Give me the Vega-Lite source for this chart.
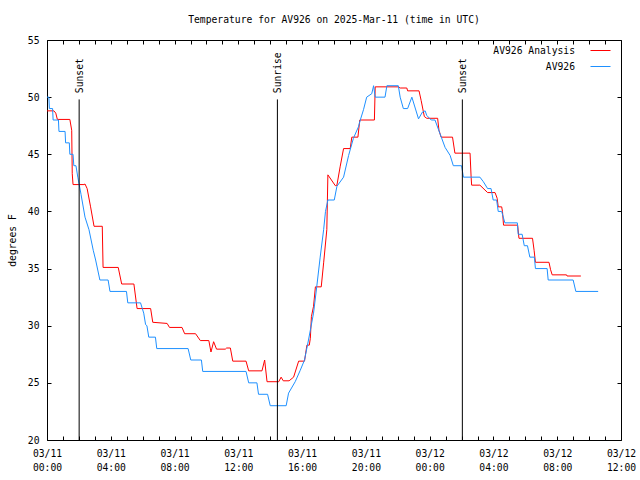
{
  "$schema": "https://vega.github.io/schema/vega-lite/v6.json",
  "width": 574,
  "height": 400,
  "autosize": {"type": "none"},
  "padding": {"left": 47, "top": 40, "right": 19, "bottom": 40},
  "background": "white",
  "title": {"text": "Temperature for AV926 on 2025-Mar-11 (time in UTC)", "font": "DejaVu Sans Mono", "fontSize": 9.7, "fontWeight": "normal", "color": "black", "offset": 10, "anchor": "middle"},
  "config": {
    "view": {"stroke": "black", "strokeWidth": 1},
    "axis": {"domain": false, "grid": false, "labelFont": "DejaVu Sans Mono", "labelFontSize": 9.7, "labelColor": "black", "titleFont": "DejaVu Sans Mono", "titleFontSize": 9.7, "titleFontWeight": "normal", "titleColor": "black", "tickColor": "black", "tickSize": -4}
  },
  "datasets": {
    "temps": [
      {"s": "AV926 Analysis", "t": "2025-03-11T00:00:00Z", "v": 48.8},
      {"s": "AV926 Analysis", "t": "2025-03-11T00:26:00Z", "v": 48.8},
      {"s": "AV926 Analysis", "t": "2025-03-11T00:33:00Z", "v": 48.6},
      {"s": "AV926 Analysis", "t": "2025-03-11T00:39:00Z", "v": 48.05},
      {"s": "AV926 Analysis", "t": "2025-03-11T01:26:00Z", "v": 48.05},
      {"s": "AV926 Analysis", "t": "2025-03-11T01:33:00Z", "v": 47.1},
      {"s": "AV926 Analysis", "t": "2025-03-11T01:35:00Z", "v": 43.3},
      {"s": "AV926 Analysis", "t": "2025-03-11T01:38:00Z", "v": 42.35},
      {"s": "AV926 Analysis", "t": "2025-03-11T02:19:00Z", "v": 42.35},
      {"s": "AV926 Analysis", "t": "2025-03-11T02:23:00Z", "v": 42.4},
      {"s": "AV926 Analysis", "t": "2025-03-11T02:31:00Z", "v": 42.0},
      {"s": "AV926 Analysis", "t": "2025-03-11T02:44:00Z", "v": 40.4},
      {"s": "AV926 Analysis", "t": "2025-03-11T02:57:00Z", "v": 38.7},
      {"s": "AV926 Analysis", "t": "2025-03-11T03:28:00Z", "v": 38.7},
      {"s": "AV926 Analysis", "t": "2025-03-11T03:31:00Z", "v": 35.1},
      {"s": "AV926 Analysis", "t": "2025-03-11T04:28:00Z", "v": 35.1},
      {"s": "AV926 Analysis", "t": "2025-03-11T04:41:00Z", "v": 33.65},
      {"s": "AV926 Analysis", "t": "2025-03-11T05:27:00Z", "v": 33.65},
      {"s": "AV926 Analysis", "t": "2025-03-11T05:39:00Z", "v": 31.5},
      {"s": "AV926 Analysis", "t": "2025-03-11T06:30:00Z", "v": 31.5},
      {"s": "AV926 Analysis", "t": "2025-03-11T06:38:00Z", "v": 30.3},
      {"s": "AV926 Analysis", "t": "2025-03-11T07:32:00Z", "v": 30.2},
      {"s": "AV926 Analysis", "t": "2025-03-11T07:41:00Z", "v": 29.85},
      {"s": "AV926 Analysis", "t": "2025-03-11T08:28:00Z", "v": 29.85},
      {"s": "AV926 Analysis", "t": "2025-03-11T08:38:00Z", "v": 29.3},
      {"s": "AV926 Analysis", "t": "2025-03-11T09:19:00Z", "v": 29.3},
      {"s": "AV926 Analysis", "t": "2025-03-11T09:37:00Z", "v": 28.7},
      {"s": "AV926 Analysis", "t": "2025-03-11T10:09:00Z", "v": 28.7},
      {"s": "AV926 Analysis", "t": "2025-03-11T10:17:00Z", "v": 27.7},
      {"s": "AV926 Analysis", "t": "2025-03-11T10:27:00Z", "v": 28.6},
      {"s": "AV926 Analysis", "t": "2025-03-11T10:38:00Z", "v": 27.95},
      {"s": "AV926 Analysis", "t": "2025-03-11T11:11:00Z", "v": 27.95},
      {"s": "AV926 Analysis", "t": "2025-03-11T11:16:00Z", "v": 28.05},
      {"s": "AV926 Analysis", "t": "2025-03-11T11:30:00Z", "v": 28.05},
      {"s": "AV926 Analysis", "t": "2025-03-11T11:39:00Z", "v": 26.9},
      {"s": "AV926 Analysis", "t": "2025-03-11T12:29:00Z", "v": 26.9},
      {"s": "AV926 Analysis", "t": "2025-03-11T12:39:00Z", "v": 26.05},
      {"s": "AV926 Analysis", "t": "2025-03-11T13:29:00Z", "v": 26.05},
      {"s": "AV926 Analysis", "t": "2025-03-11T13:39:00Z", "v": 27.0},
      {"s": "AV926 Analysis", "t": "2025-03-11T13:48:00Z", "v": 25.1},
      {"s": "AV926 Analysis", "t": "2025-03-11T14:32:00Z", "v": 25.1},
      {"s": "AV926 Analysis", "t": "2025-03-11T14:41:00Z", "v": 25.5},
      {"s": "AV926 Analysis", "t": "2025-03-11T14:49:00Z", "v": 25.18},
      {"s": "AV926 Analysis", "t": "2025-03-11T15:11:00Z", "v": 25.18},
      {"s": "AV926 Analysis", "t": "2025-03-11T15:28:00Z", "v": 25.5},
      {"s": "AV926 Analysis", "t": "2025-03-11T15:47:00Z", "v": 26.9},
      {"s": "AV926 Analysis", "t": "2025-03-11T16:09:00Z", "v": 26.9},
      {"s": "AV926 Analysis", "t": "2025-03-11T16:18:00Z", "v": 28.3},
      {"s": "AV926 Analysis", "t": "2025-03-11T16:27:00Z", "v": 28.3},
      {"s": "AV926 Analysis", "t": "2025-03-11T16:31:00Z", "v": 28.9},
      {"s": "AV926 Analysis", "t": "2025-03-11T16:35:00Z", "v": 30.8},
      {"s": "AV926 Analysis", "t": "2025-03-11T16:43:00Z", "v": 31.7},
      {"s": "AV926 Analysis", "t": "2025-03-11T16:50:00Z", "v": 33.4},
      {"s": "AV926 Analysis", "t": "2025-03-11T17:12:00Z", "v": 33.4},
      {"s": "AV926 Analysis", "t": "2025-03-11T17:21:00Z", "v": 35.5},
      {"s": "AV926 Analysis", "t": "2025-03-11T17:33:00Z", "v": 38.4},
      {"s": "AV926 Analysis", "t": "2025-03-11T17:37:00Z", "v": 43.2},
      {"s": "AV926 Analysis", "t": "2025-03-11T18:05:00Z", "v": 42.25},
      {"s": "AV926 Analysis", "t": "2025-03-11T18:11:00Z", "v": 42.3},
      {"s": "AV926 Analysis", "t": "2025-03-11T18:23:00Z", "v": 43.9},
      {"s": "AV926 Analysis", "t": "2025-03-11T18:36:00Z", "v": 45.5},
      {"s": "AV926 Analysis", "t": "2025-03-11T19:01:00Z", "v": 45.5},
      {"s": "AV926 Analysis", "t": "2025-03-11T19:07:00Z", "v": 46.5},
      {"s": "AV926 Analysis", "t": "2025-03-11T19:30:00Z", "v": 46.5},
      {"s": "AV926 Analysis", "t": "2025-03-11T19:37:00Z", "v": 48.0},
      {"s": "AV926 Analysis", "t": "2025-03-11T20:32:00Z", "v": 48.0},
      {"s": "AV926 Analysis", "t": "2025-03-11T20:35:00Z", "v": 50.9},
      {"s": "AV926 Analysis", "t": "2025-03-11T22:02:00Z", "v": 50.9},
      {"s": "AV926 Analysis", "t": "2025-03-11T22:09:00Z", "v": 50.8},
      {"s": "AV926 Analysis", "t": "2025-03-11T22:34:00Z", "v": 50.8},
      {"s": "AV926 Analysis", "t": "2025-03-11T22:37:00Z", "v": 50.55},
      {"s": "AV926 Analysis", "t": "2025-03-11T23:20:00Z", "v": 50.55},
      {"s": "AV926 Analysis", "t": "2025-03-11T23:28:00Z", "v": 49.7},
      {"s": "AV926 Analysis", "t": "2025-03-11T23:40:00Z", "v": 48.3},
      {"s": "AV926 Analysis", "t": "2025-03-11T23:49:00Z", "v": 48.15},
      {"s": "AV926 Analysis", "t": "2025-03-12T00:30:00Z", "v": 48.15},
      {"s": "AV926 Analysis", "t": "2025-03-12T00:35:00Z", "v": 47.1},
      {"s": "AV926 Analysis", "t": "2025-03-12T00:43:00Z", "v": 46.5},
      {"s": "AV926 Analysis", "t": "2025-03-12T01:26:00Z", "v": 46.5},
      {"s": "AV926 Analysis", "t": "2025-03-12T01:35:00Z", "v": 45.1},
      {"s": "AV926 Analysis", "t": "2025-03-12T02:32:00Z", "v": 45.1},
      {"s": "AV926 Analysis", "t": "2025-03-12T02:36:00Z", "v": 43.0},
      {"s": "AV926 Analysis", "t": "2025-03-12T02:38:00Z", "v": 42.3},
      {"s": "AV926 Analysis", "t": "2025-03-12T03:09:00Z", "v": 42.3},
      {"s": "AV926 Analysis", "t": "2025-03-12T03:38:00Z", "v": 41.65},
      {"s": "AV926 Analysis", "t": "2025-03-12T04:06:00Z", "v": 41.65},
      {"s": "AV926 Analysis", "t": "2025-03-12T04:14:00Z", "v": 41.15},
      {"s": "AV926 Analysis", "t": "2025-03-12T04:18:00Z", "v": 40.4},
      {"s": "AV926 Analysis", "t": "2025-03-12T04:31:00Z", "v": 40.4},
      {"s": "AV926 Analysis", "t": "2025-03-12T04:34:00Z", "v": 40.0},
      {"s": "AV926 Analysis", "t": "2025-03-12T04:38:00Z", "v": 38.8},
      {"s": "AV926 Analysis", "t": "2025-03-12T05:31:00Z", "v": 38.8},
      {"s": "AV926 Analysis", "t": "2025-03-12T05:36:00Z", "v": 37.65},
      {"s": "AV926 Analysis", "t": "2025-03-12T06:27:00Z", "v": 37.65},
      {"s": "AV926 Analysis", "t": "2025-03-12T06:33:00Z", "v": 36.6},
      {"s": "AV926 Analysis", "t": "2025-03-12T06:38:00Z", "v": 35.55},
      {"s": "AV926 Analysis", "t": "2025-03-12T07:29:00Z", "v": 35.55},
      {"s": "AV926 Analysis", "t": "2025-03-12T07:35:00Z", "v": 34.9},
      {"s": "AV926 Analysis", "t": "2025-03-12T07:41:00Z", "v": 34.45},
      {"s": "AV926 Analysis", "t": "2025-03-12T08:35:00Z", "v": 34.45},
      {"s": "AV926 Analysis", "t": "2025-03-12T08:37:00Z", "v": 34.35},
      {"s": "AV926 Analysis", "t": "2025-03-12T09:29:00Z", "v": 34.35},
      {"s": "AV926", "t": "2025-03-11T00:00:00Z", "v": 50},
      {"s": "AV926", "t": "2025-03-11T00:07:00Z", "v": 50},
      {"s": "AV926", "t": "2025-03-11T00:09:00Z", "v": 49},
      {"s": "AV926", "t": "2025-03-11T00:21:00Z", "v": 49},
      {"s": "AV926", "t": "2025-03-11T00:23:00Z", "v": 48},
      {"s": "AV926", "t": "2025-03-11T00:43:00Z", "v": 48},
      {"s": "AV926", "t": "2025-03-11T00:45:00Z", "v": 47},
      {"s": "AV926", "t": "2025-03-11T01:08:00Z", "v": 47},
      {"s": "AV926", "t": "2025-03-11T01:10:00Z", "v": 46},
      {"s": "AV926", "t": "2025-03-11T01:24:00Z", "v": 46},
      {"s": "AV926", "t": "2025-03-11T01:26:00Z", "v": 45},
      {"s": "AV926", "t": "2025-03-11T01:38:00Z", "v": 45},
      {"s": "AV926", "t": "2025-03-11T01:41:00Z", "v": 44},
      {"s": "AV926", "t": "2025-03-11T01:49:00Z", "v": 44},
      {"s": "AV926", "t": "2025-03-11T01:56:00Z", "v": 43},
      {"s": "AV926", "t": "2025-03-11T02:08:00Z", "v": 41.5},
      {"s": "AV926", "t": "2025-03-11T02:23:00Z", "v": 39.5},
      {"s": "AV926", "t": "2025-03-11T02:38:00Z", "v": 38.4},
      {"s": "AV926", "t": "2025-03-11T02:54:00Z", "v": 36.6},
      {"s": "AV926", "t": "2025-03-11T03:03:00Z", "v": 35.75},
      {"s": "AV926", "t": "2025-03-11T03:19:00Z", "v": 34},
      {"s": "AV926", "t": "2025-03-11T03:50:00Z", "v": 34},
      {"s": "AV926", "t": "2025-03-11T03:57:00Z", "v": 33},
      {"s": "AV926", "t": "2025-03-11T04:59:00Z", "v": 33},
      {"s": "AV926", "t": "2025-03-11T05:04:00Z", "v": 32},
      {"s": "AV926", "t": "2025-03-11T05:52:00Z", "v": 32},
      {"s": "AV926", "t": "2025-03-11T06:04:00Z", "v": 31.1},
      {"s": "AV926", "t": "2025-03-11T06:11:00Z", "v": 30.1},
      {"s": "AV926", "t": "2025-03-11T06:16:00Z", "v": 30},
      {"s": "AV926", "t": "2025-03-11T06:23:00Z", "v": 29},
      {"s": "AV926", "t": "2025-03-11T06:48:00Z", "v": 29},
      {"s": "AV926", "t": "2025-03-11T06:53:00Z", "v": 28},
      {"s": "AV926", "t": "2025-03-11T08:51:00Z", "v": 28},
      {"s": "AV926", "t": "2025-03-11T09:01:00Z", "v": 27},
      {"s": "AV926", "t": "2025-03-11T09:41:00Z", "v": 27},
      {"s": "AV926", "t": "2025-03-11T09:46:00Z", "v": 26},
      {"s": "AV926", "t": "2025-03-11T12:29:00Z", "v": 26},
      {"s": "AV926", "t": "2025-03-11T12:39:00Z", "v": 25},
      {"s": "AV926", "t": "2025-03-11T13:10:00Z", "v": 25},
      {"s": "AV926", "t": "2025-03-11T13:16:00Z", "v": 24},
      {"s": "AV926", "t": "2025-03-11T13:50:00Z", "v": 24},
      {"s": "AV926", "t": "2025-03-11T14:00:00Z", "v": 23},
      {"s": "AV926", "t": "2025-03-11T15:00:00Z", "v": 23},
      {"s": "AV926", "t": "2025-03-11T15:09:00Z", "v": 24.1},
      {"s": "AV926", "t": "2025-03-11T15:34:00Z", "v": 25.1},
      {"s": "AV926", "t": "2025-03-11T15:53:00Z", "v": 26.1},
      {"s": "AV926", "t": "2025-03-11T16:09:00Z", "v": 27},
      {"s": "AV926", "t": "2025-03-11T16:24:00Z", "v": 28.75},
      {"s": "AV926", "t": "2025-03-11T16:43:00Z", "v": 31.1},
      {"s": "AV926", "t": "2025-03-11T16:55:00Z", "v": 33.4},
      {"s": "AV926", "t": "2025-03-11T17:08:00Z", "v": 36},
      {"s": "AV926", "t": "2025-03-11T17:21:00Z", "v": 38.4},
      {"s": "AV926", "t": "2025-03-11T17:28:00Z", "v": 40},
      {"s": "AV926", "t": "2025-03-11T17:37:00Z", "v": 41},
      {"s": "AV926", "t": "2025-03-11T18:01:00Z", "v": 41},
      {"s": "AV926", "t": "2025-03-11T18:11:00Z", "v": 42.2},
      {"s": "AV926", "t": "2025-03-11T18:36:00Z", "v": 43},
      {"s": "AV926", "t": "2025-03-11T18:55:00Z", "v": 44.9},
      {"s": "AV926", "t": "2025-03-11T19:13:00Z", "v": 46.4},
      {"s": "AV926", "t": "2025-03-11T19:32:00Z", "v": 47.4},
      {"s": "AV926", "t": "2025-03-11T19:39:00Z", "v": 48},
      {"s": "AV926", "t": "2025-03-11T19:51:00Z", "v": 48.9},
      {"s": "AV926", "t": "2025-03-11T20:03:00Z", "v": 50},
      {"s": "AV926", "t": "2025-03-11T20:22:00Z", "v": 50.3},
      {"s": "AV926", "t": "2025-03-11T20:29:00Z", "v": 51},
      {"s": "AV926", "t": "2025-03-11T20:35:00Z", "v": 50},
      {"s": "AV926", "t": "2025-03-11T21:12:00Z", "v": 50},
      {"s": "AV926", "t": "2025-03-11T21:19:00Z", "v": 51},
      {"s": "AV926", "t": "2025-03-11T22:02:00Z", "v": 51},
      {"s": "AV926", "t": "2025-03-11T22:09:00Z", "v": 50},
      {"s": "AV926", "t": "2025-03-11T22:21:00Z", "v": 49},
      {"s": "AV926", "t": "2025-03-11T22:37:00Z", "v": 49},
      {"s": "AV926", "t": "2025-03-11T22:53:00Z", "v": 50},
      {"s": "AV926", "t": "2025-03-11T23:18:00Z", "v": 48.1},
      {"s": "AV926", "t": "2025-03-11T23:33:00Z", "v": 48.7},
      {"s": "AV926", "t": "2025-03-11T23:43:00Z", "v": 48.8},
      {"s": "AV926", "t": "2025-03-11T23:49:00Z", "v": 48.4},
      {"s": "AV926", "t": "2025-03-12T00:06:00Z", "v": 48},
      {"s": "AV926", "t": "2025-03-12T00:20:00Z", "v": 48},
      {"s": "AV926", "t": "2025-03-12T00:39:00Z", "v": 46.8},
      {"s": "AV926", "t": "2025-03-12T00:58:00Z", "v": 45.6},
      {"s": "AV926", "t": "2025-03-12T01:17:00Z", "v": 44.9},
      {"s": "AV926", "t": "2025-03-12T01:29:00Z", "v": 44},
      {"s": "AV926", "t": "2025-03-12T02:00:00Z", "v": 44},
      {"s": "AV926", "t": "2025-03-12T02:07:00Z", "v": 43},
      {"s": "AV926", "t": "2025-03-12T03:09:00Z", "v": 43},
      {"s": "AV926", "t": "2025-03-12T03:22:00Z", "v": 42.6},
      {"s": "AV926", "t": "2025-03-12T03:38:00Z", "v": 42},
      {"s": "AV926", "t": "2025-03-12T03:51:00Z", "v": 42},
      {"s": "AV926", "t": "2025-03-12T03:59:00Z", "v": 41},
      {"s": "AV926", "t": "2025-03-12T04:12:00Z", "v": 41},
      {"s": "AV926", "t": "2025-03-12T04:18:00Z", "v": 40},
      {"s": "AV926", "t": "2025-03-12T04:31:00Z", "v": 40},
      {"s": "AV926", "t": "2025-03-12T04:43:00Z", "v": 39},
      {"s": "AV926", "t": "2025-03-12T05:30:00Z", "v": 39},
      {"s": "AV926", "t": "2025-03-12T05:33:00Z", "v": 38},
      {"s": "AV926", "t": "2025-03-12T05:48:00Z", "v": 38},
      {"s": "AV926", "t": "2025-03-12T05:56:00Z", "v": 37},
      {"s": "AV926", "t": "2025-03-12T06:08:00Z", "v": 37},
      {"s": "AV926", "t": "2025-03-12T06:17:00Z", "v": 36},
      {"s": "AV926", "t": "2025-03-12T06:34:00Z", "v": 36},
      {"s": "AV926", "t": "2025-03-12T06:38:00Z", "v": 35},
      {"s": "AV926", "t": "2025-03-12T07:22:00Z", "v": 35},
      {"s": "AV926", "t": "2025-03-12T07:26:00Z", "v": 34},
      {"s": "AV926", "t": "2025-03-12T09:00:00Z", "v": 34},
      {"s": "AV926", "t": "2025-03-12T09:10:00Z", "v": 33},
      {"s": "AV926", "t": "2025-03-12T10:34:00Z", "v": 33}
    ],
    "events": [
      {"t": "2025-03-11T02:01:00Z", "label": "Sunset"},
      {"t": "2025-03-11T14:27:00Z", "label": "Sunrise"},
      {"t": "2025-03-12T02:03:00Z", "label": "Sunset"}
    ]
  },
  "layer": [
    {
      "data": {"name": "temps"},
      "mark": {"type": "line", "strokeWidth": 1, "interpolate": "linear"},
      "encoding": {
        "x": {
          "field": "t", "type": "temporal",
          "scale": {"type": "utc", "domain": [{"year": 2025, "month": 3, "date": 11, "hours": 0, "utc": true}, {"year": 2025, "month": 3, "date": 12, "hours": 12, "utc": true}]},
          "axis": {
            "orient": "bottom", "title": null,
            "values": [
              {"year": 2025, "month": 3, "date": 11, "hours": 0, "utc": true},
              {"year": 2025, "month": 3, "date": 11, "hours": 1, "utc": true},
              {"year": 2025, "month": 3, "date": 11, "hours": 2, "utc": true},
              {"year": 2025, "month": 3, "date": 11, "hours": 3, "utc": true},
              {"year": 2025, "month": 3, "date": 11, "hours": 4, "utc": true},
              {"year": 2025, "month": 3, "date": 11, "hours": 5, "utc": true},
              {"year": 2025, "month": 3, "date": 11, "hours": 6, "utc": true},
              {"year": 2025, "month": 3, "date": 11, "hours": 7, "utc": true},
              {"year": 2025, "month": 3, "date": 11, "hours": 8, "utc": true},
              {"year": 2025, "month": 3, "date": 11, "hours": 9, "utc": true},
              {"year": 2025, "month": 3, "date": 11, "hours": 10, "utc": true},
              {"year": 2025, "month": 3, "date": 11, "hours": 11, "utc": true},
              {"year": 2025, "month": 3, "date": 11, "hours": 12, "utc": true},
              {"year": 2025, "month": 3, "date": 11, "hours": 13, "utc": true},
              {"year": 2025, "month": 3, "date": 11, "hours": 14, "utc": true},
              {"year": 2025, "month": 3, "date": 11, "hours": 15, "utc": true},
              {"year": 2025, "month": 3, "date": 11, "hours": 16, "utc": true},
              {"year": 2025, "month": 3, "date": 11, "hours": 17, "utc": true},
              {"year": 2025, "month": 3, "date": 11, "hours": 18, "utc": true},
              {"year": 2025, "month": 3, "date": 11, "hours": 19, "utc": true},
              {"year": 2025, "month": 3, "date": 11, "hours": 20, "utc": true},
              {"year": 2025, "month": 3, "date": 11, "hours": 21, "utc": true},
              {"year": 2025, "month": 3, "date": 11, "hours": 22, "utc": true},
              {"year": 2025, "month": 3, "date": 11, "hours": 23, "utc": true},
              {"year": 2025, "month": 3, "date": 12, "hours": 0, "utc": true},
              {"year": 2025, "month": 3, "date": 12, "hours": 1, "utc": true},
              {"year": 2025, "month": 3, "date": 12, "hours": 2, "utc": true},
              {"year": 2025, "month": 3, "date": 12, "hours": 3, "utc": true},
              {"year": 2025, "month": 3, "date": 12, "hours": 4, "utc": true},
              {"year": 2025, "month": 3, "date": 12, "hours": 5, "utc": true},
              {"year": 2025, "month": 3, "date": 12, "hours": 6, "utc": true},
              {"year": 2025, "month": 3, "date": 12, "hours": 7, "utc": true},
              {"year": 2025, "month": 3, "date": 12, "hours": 8, "utc": true},
              {"year": 2025, "month": 3, "date": 12, "hours": 9, "utc": true},
              {"year": 2025, "month": 3, "date": 12, "hours": 10, "utc": true},
              {"year": 2025, "month": 3, "date": 12, "hours": 11, "utc": true},
              {"year": 2025, "month": 3, "date": 12, "hours": 12, "utc": true}
            ],
            "labelExpr": "datum.value % 14400000 == 0 ? [utcFormat(datum.value, '%m/%d'), utcFormat(datum.value, '%H:%M')] : ''",
            "labelFlush": false, "labelOverlap": false, "labelBound": false, "labelPadding": 12, "labelLineHeight": 14
          }
        },
        "y": {
          "field": "v", "type": "quantitative",
          "scale": {"domain": [20, 55], "nice": false, "zero": false},
          "axis": {"orient": "left", "title": "degrees F", "values": [20, 25, 30, 35, 40, 45, 50, 55], "labelPadding": 12, "titlePadding": 10}
        },
        "color": {
          "field": "s", "type": "nominal",
          "scale": {"domain": ["AV926 Analysis", "AV926"], "range": ["#ff0000", "#1e90ff"]},
          "legend": {"title": null, "orient": "none", "legendX": 543, "legendY": 0, "symbolType": "stroke", "symbolSize": 400, "symbolStrokeWidth": 1, "rowPadding": 0, "labelAlign": "right", "labelOffset": -36, "labelFont": "DejaVu Sans Mono", "labelFontSize": 9.7, "labelColor": "black", "padding": 0}
        }
      }
    },
    {
      "data": {"name": "events"},
      "mark": {"type": "rule", "color": "black", "strokeWidth": 1},
      "encoding": {
        "x": {
          "field": "t", "type": "temporal",
          "axis": {
            "orient": "top", "title": null, "labels": false,
            "values": [
              {"year": 2025, "month": 3, "date": 11, "hours": 0, "utc": true},
              {"year": 2025, "month": 3, "date": 11, "hours": 1, "utc": true},
              {"year": 2025, "month": 3, "date": 11, "hours": 2, "utc": true},
              {"year": 2025, "month": 3, "date": 11, "hours": 3, "utc": true},
              {"year": 2025, "month": 3, "date": 11, "hours": 4, "utc": true},
              {"year": 2025, "month": 3, "date": 11, "hours": 5, "utc": true},
              {"year": 2025, "month": 3, "date": 11, "hours": 6, "utc": true},
              {"year": 2025, "month": 3, "date": 11, "hours": 7, "utc": true},
              {"year": 2025, "month": 3, "date": 11, "hours": 8, "utc": true},
              {"year": 2025, "month": 3, "date": 11, "hours": 9, "utc": true},
              {"year": 2025, "month": 3, "date": 11, "hours": 10, "utc": true},
              {"year": 2025, "month": 3, "date": 11, "hours": 11, "utc": true},
              {"year": 2025, "month": 3, "date": 11, "hours": 12, "utc": true},
              {"year": 2025, "month": 3, "date": 11, "hours": 13, "utc": true},
              {"year": 2025, "month": 3, "date": 11, "hours": 14, "utc": true},
              {"year": 2025, "month": 3, "date": 11, "hours": 15, "utc": true},
              {"year": 2025, "month": 3, "date": 11, "hours": 16, "utc": true},
              {"year": 2025, "month": 3, "date": 11, "hours": 17, "utc": true},
              {"year": 2025, "month": 3, "date": 11, "hours": 18, "utc": true},
              {"year": 2025, "month": 3, "date": 11, "hours": 19, "utc": true},
              {"year": 2025, "month": 3, "date": 11, "hours": 20, "utc": true},
              {"year": 2025, "month": 3, "date": 11, "hours": 21, "utc": true},
              {"year": 2025, "month": 3, "date": 11, "hours": 22, "utc": true},
              {"year": 2025, "month": 3, "date": 11, "hours": 23, "utc": true},
              {"year": 2025, "month": 3, "date": 12, "hours": 0, "utc": true},
              {"year": 2025, "month": 3, "date": 12, "hours": 1, "utc": true},
              {"year": 2025, "month": 3, "date": 12, "hours": 2, "utc": true},
              {"year": 2025, "month": 3, "date": 12, "hours": 3, "utc": true},
              {"year": 2025, "month": 3, "date": 12, "hours": 4, "utc": true},
              {"year": 2025, "month": 3, "date": 12, "hours": 5, "utc": true},
              {"year": 2025, "month": 3, "date": 12, "hours": 6, "utc": true},
              {"year": 2025, "month": 3, "date": 12, "hours": 7, "utc": true},
              {"year": 2025, "month": 3, "date": 12, "hours": 8, "utc": true},
              {"year": 2025, "month": 3, "date": 12, "hours": 9, "utc": true},
              {"year": 2025, "month": 3, "date": 12, "hours": 10, "utc": true},
              {"year": 2025, "month": 3, "date": 12, "hours": 11, "utc": true},
              {"year": 2025, "month": 3, "date": 12, "hours": 12, "utc": true}
            ]
          }
        },
        "y": {"datum": 49.8, "type": "quantitative", "axis": {"orient": "right", "title": null, "labels": false, "values": [20, 25, 30, 35, 40, 45, 50, 55]}},
        "y2": {"datum": 20}
      }
    },
    {
      "data": {"name": "events"},
      "mark": {"type": "text", "angle": 270, "align": "left", "baseline": "middle", "dy": 1, "font": "DejaVu Sans Mono", "fontSize": 9.7, "color": "black"},
      "encoding": {
        "x": {"field": "t", "type": "temporal", "axis": null},
        "y": {"datum": 50.35, "type": "quantitative", "axis": null},
        "text": {"field": "label"}
      }
    }
  ],
  "resolve": {"axis": {"x": "independent", "y": "independent"}}
}
